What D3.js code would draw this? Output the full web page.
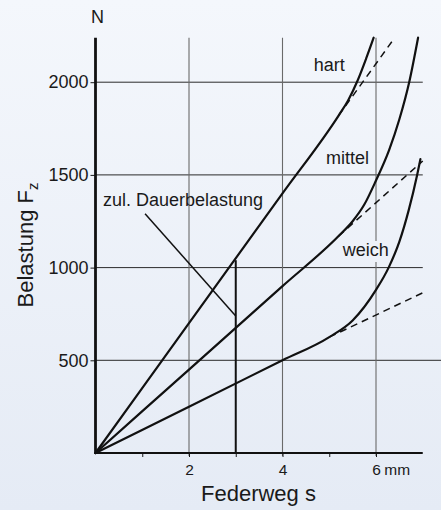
<!DOCTYPE html>
<html>
<head>
<meta charset="utf-8">
<script src="https://cdn.jsdelivr.net/npm/d3@7/dist/d3.min.js"></script>
<style>
  html, body { margin: 0; padding: 0; }
  svg { display: block; }
  text { font-family: "Liberation Sans", Arial, Helvetica, sans-serif; fill: #1a1a1a; }
</style>
</head>
<body>
<script>
// ---------- data ----------
const springNames = ["hart", "mittel", "weich"];
// measured curves (Federweg s in mm, Belastung in N)
const hartCurve   = [[0,0],[2,700],[4,1400],[5.2,1820],[5.4,1900],[5.6,2005],[5.8,2135],[5.95,2240]];
const mittelCurve = [[0,0],[2,450],[4,900],[5.2,1170],[5.5,1250],[5.75,1340],[6.0,1470],[6.28,1634],[6.5,1800],[6.71,2000],[6.9,2240]];
const weichCurve  = [[0,0],[2,250],[4,500],[5.0,625],[5.5,715],[6.0,880],[6.27,1000],[6.5,1140],[6.7,1310],[6.88,1500],[6.95,1585]];
// linear (dashed) continuations
const hartDashed   = [[5.2,1820],[6.4,2240]];
const mittelDashed = [[5.2,1170],[7.0,1575]];
const weichDashed  = [[5.0,625],[7.05,870]];
// annotation: permissible continuous load at s = 3 mm
const dauerS = 3;
const dauerF = 1040;
const leaderFrom = [1.06, 1290];
const leaderTo   = [3, 739];

const yTicks = [500, 1000, 1500, 2000];
const xTicks = [1, 2, 3, 4, 5, 6];
const xLabeled = [2, 4, 6];
const xGrid = [2, 4, 6];
const xDomain = [0, 7];
const yDomain = [0, 2240];

// ---------- layout ----------
const W = 441, H = 510;
const svg = d3.select("body").append("svg").attr("width", W).attr("height", H);

const defs = svg.append("defs");
const grad = defs.append("linearGradient").attr("id", "bg").attr("x1", 0).attr("y1", 0).attr("x2", 0).attr("y2", 1);
grad.append("stop").attr("offset", "0%").attr("stop-color", "#f4f7fc");
grad.append("stop").attr("offset", "100%").attr("stop-color", "#e5ebf5");
svg.append("rect").attr("width", W).attr("height", H).attr("fill", "url(#bg)");

const x = d3.scaleLinear().domain(xDomain).range([95.5, 422.75]);
const y = d3.scaleLinear().domain(yDomain).range([453, 37.7]);

const g = svg.append("g");

// labels of curves (drawn first to measure for grid gap)
const labelPos = { hart: [4.67, 2060], mittel: [4.93, 1559], weich: [5.29, 1063] };
const labels = g.append("g").selectAll("text").data(springNames).join("text")
  .attr("x", d => x(labelPos[d][0]))
  .attr("y", d => y(labelPos[d][1]))
  .attr("font-size", 18)
  .text(d => d);

// horizontal grid lines
g.append("g").selectAll("line").data(yTicks).join("line")
  .attr("x1", x(0)).attr("x2", d => d === 500 ? W : x(7))
  .attr("y1", d => y(d)).attr("y2", d => y(d))
  .attr("stroke", "#2a2a2a").attr("stroke-width", 1);

// vertical grid lines (gap where the "weich" label sits)
const weichBox = labels.filter(d => d === "weich").node().getBBox();
xGrid.forEach(v => {
  const px = x(v);
  let segs = [[y(0), y(yDomain[1])]];
  if (px >= weichBox.x - 2 && px <= weichBox.x + weichBox.width + 2) {
    segs = [[y(0), weichBox.y + weichBox.height + 2], [weichBox.y - 2, y(yDomain[1])]];
  }
  segs.forEach(s => {
    g.append("line").attr("x1", px).attr("x2", px).attr("y1", s[0] + 3).attr("y2", s[1])
      .attr("stroke", "#6a6a6a").attr("stroke-width", 1.1);
  });
});

// axes
const yAxis = d3.axisLeft(y).tickValues(yTicks).tickSize(5).tickPadding(2).tickFormat(d3.format("d"));
const yg = g.append("g").attr("transform", `translate(${x(0)},0)`).call(yAxis);
yg.select(".domain").remove();
yg.selectAll("text").attr("font-size", 18).attr("font-family", null);
yg.selectAll("line").attr("stroke", "#1a1a1a");

const xAxis = d3.axisBottom(x).tickValues(xTicks).tickSize(4).tickPadding(6.5)
  .tickFormat(d => xLabeled.includes(d) ? String(d) : "");
const xg = g.append("g").attr("transform", `translate(0,${y(0)})`).call(xAxis);
xg.select(".domain").remove();
xg.selectAll("text").attr("font-size", 15.5).attr("font-family", null);
xg.selectAll("line").attr("stroke", "#1a1a1a");

// unit "mm" after the 6
const sixNode = xg.selectAll(".tick").filter(d => d === 6).select("text").node();
const sixBox = sixNode.getBBox();
const sixTick = xg.selectAll(".tick").filter(d => d === 6);
sixTick.append("text").attr("x", sixBox.x + sixBox.width + 3.5).attr("y", sixNode.getAttribute("y"))
  .attr("dy", "0.71em").attr("font-size", 15.5).attr("text-anchor", "start").attr("fill", "#1a1a1a")
  .text("mm");

// axis lines
g.append("line").attr("x1", x(0)).attr("x2", x(0)).attr("y1", y(0) + 1).attr("y2", y(yDomain[1]))
  .attr("stroke", "#111").attr("stroke-width", 2.8);
g.append("line").attr("x1", x(0)).attr("x2", x(7)).attr("y1", y(0)).attr("y2", y(0))
  .attr("stroke", "#111").attr("stroke-width", 2);

// Dauerbelastung vertical and leader line
g.append("line").attr("x1", x(dauerS)).attr("x2", x(dauerS)).attr("y1", y(0)).attr("y2", y(dauerF))
  .attr("stroke", "#111").attr("stroke-width", 2);
g.append("line").attr("x1", x(leaderFrom[0])).attr("y1", y(leaderFrom[1]))
  .attr("x2", x(leaderTo[0])).attr("y2", y(leaderTo[1]))
  .attr("stroke", "#111").attr("stroke-width", 1.5);
g.append("text").attr("x", x(0.16)).attr("y", y(1334)).attr("font-size", 18).text("zul. Dauerbelastung");

// curves
const line = d3.line().x(d => x(d[0])).y(d => y(d[1])).curve(d3.curveMonotoneX);
const straight = d3.line().x(d => x(d[0])).y(d => y(d[1]));
[hartCurve, mittelCurve, weichCurve].forEach(c => {
  g.append("path").attr("d", line(c)).attr("fill", "none").attr("stroke", "#111")
    .attr("stroke-width", 2.2).attr("stroke-linecap", "round");
});
[hartDashed, mittelDashed, weichDashed].forEach(c => {
  g.append("path").attr("d", straight(c)).attr("fill", "none").attr("stroke", "#111")
    .attr("stroke-width", 1.5).attr("stroke-dasharray", "7,5");
});

// axis titles
g.append("text").attr("x", x(0) + 2).attr("y", 23).attr("text-anchor", "middle").attr("font-size", 18).text("N");
g.append("text").attr("x", 258.5).attr("y", 501).attr("text-anchor", "middle").attr("font-size", 22).text("Federweg s");
const yt = g.append("text").attr("transform", "translate(33,245) rotate(-90)").attr("text-anchor", "middle").attr("font-size", 22);
yt.append("tspan").text("Belastung F");
yt.append("tspan").attr("font-size", 15).attr("dy", "0.35em").text("z");
</script>
</body>
</html>
